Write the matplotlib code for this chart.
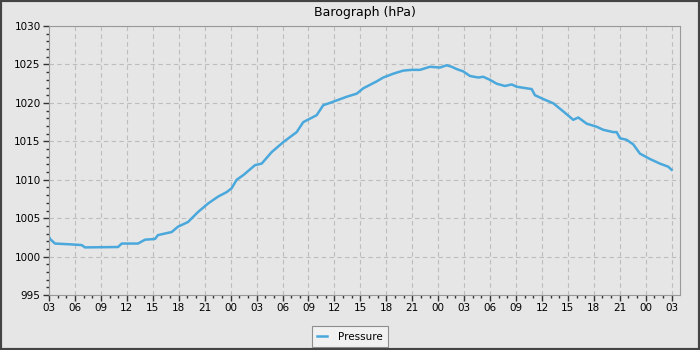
import numpy as np
import matplotlib.pyplot as plt
from matplotlib.ticker import MultipleLocator, FuncFormatter

# hours since 03:00 on day 1
hours = [0.00, 0.12, 0.69, 2.43, 3.78, 4.16, 7.98, 8.41, 10.29, 11.10,
         12.26, 12.60, 14.19, 14.92, 16.07, 17.23, 18.38, 19.54, 20.55, 21.12,
         21.70, 22.46, 23.82, 24.59, 25.75, 27.09, 28.64, 29.40, 30.95, 31.71,
         32.49, 34.42, 35.58, 36.34, 37.89, 38.65, 39.81, 40.96, 41.94, 42.90,
         44.05, 45.21, 45.98, 46.56, 47.14, 47.90, 48.68, 49.64, 50.21, 50.99,
         51.76, 52.72, 53.50, 54.08, 55.23, 55.81, 56.19, 57.15, 58.31, 59.46,
         60.62, 61.20, 62.17, 63.32, 64.09, 65.24, 65.64, 66.02, 66.79, 67.56,
         68.33, 69.49, 70.64, 71.60, 71.99]
pressure = [1002.6, 1002.3, 1001.7, 1001.6, 1001.5, 1001.2, 1001.25, 1001.7, 1001.7, 1002.2,
            1002.3, 1002.8, 1003.2, 1003.9, 1004.5, 1005.8, 1006.9, 1007.8, 1008.4, 1008.9,
            1010.0, 1010.6, 1011.9, 1012.1, 1013.6, 1014.9, 1016.2, 1017.5, 1018.4, 1019.7,
            1020.0, 1020.8, 1021.2, 1021.9, 1022.8, 1023.3, 1023.8, 1024.2, 1024.3, 1024.3,
            1024.7, 1024.6, 1024.9, 1024.7, 1024.4, 1024.1, 1023.5, 1023.3, 1023.4, 1023.0,
            1022.5, 1022.2, 1022.4, 1022.1, 1021.9, 1021.8, 1021.0, 1020.5, 1019.95, 1018.9,
            1017.8, 1018.1, 1017.3, 1016.9, 1016.5, 1016.2, 1016.2, 1015.4, 1015.2, 1014.6,
            1013.4, 1012.7, 1012.1, 1011.7, 1011.3]

start_hour = 3
x_max = 72.96
y_min, y_max = 995, 1030
bg = '#e6e6e6'

fig = plt.figure(figsize=(7, 3.5), dpi=100, facecolor=bg)
ax = fig.add_axes([0.07, 0.157, 0.9014, 0.7686], facecolor=bg)

ax.plot(hours, pressure, color='#4aa8dc', lw=1.8, label='Pressure')

ax.set_xlim(0, x_max)
ax.set_ylim(y_min, y_max)
ax.xaxis.set_major_locator(MultipleLocator(3))
ax.xaxis.set_minor_locator(MultipleLocator(1))
ax.xaxis.set_major_formatter(FuncFormatter(lambda v, p: '%02d' % ((int(round(v)) + start_hour) % 24)))
ax.yaxis.set_major_locator(MultipleLocator(5))
ax.yaxis.set_minor_locator(MultipleLocator(1))

ax.grid(True, which='major', color='#bdbdbd', ls=(0, (4, 3)), lw=0.8)
ax.set_axisbelow(True)
for s in ax.spines.values():
    s.set_color('#999999')
ax.tick_params(which='major', length=4, width=1, color='#333333', labelsize=7.5, pad=2)
ax.tick_params(which='minor', length=2, width=1, color='#333333')

ax.set_title('Barograph (hPa)', fontsize=9, pad=7)
# legend sits centred on the whole figure, just above the bottom border
leg = fig.legend(loc='lower center', bbox_to_anchor=(0.5, 0.009), fontsize=7.5,
                 frameon=True, fancybox=False, handlelength=0.9, handletextpad=1.1,
                 borderpad=0.5, borderaxespad=0)
leg.get_frame().set_edgecolor('#777777')
leg.get_frame().set_facecolor('#f4f4f4')
leg.get_frame().set_linewidth(0.8)

fig.patches.append(plt.Rectangle((0, 0), 1, 1, transform=fig.transFigure,
                                 fill=False, edgecolor='#444444', lw=3))

fig.savefig('out.png', dpi=100, facecolor=bg)
